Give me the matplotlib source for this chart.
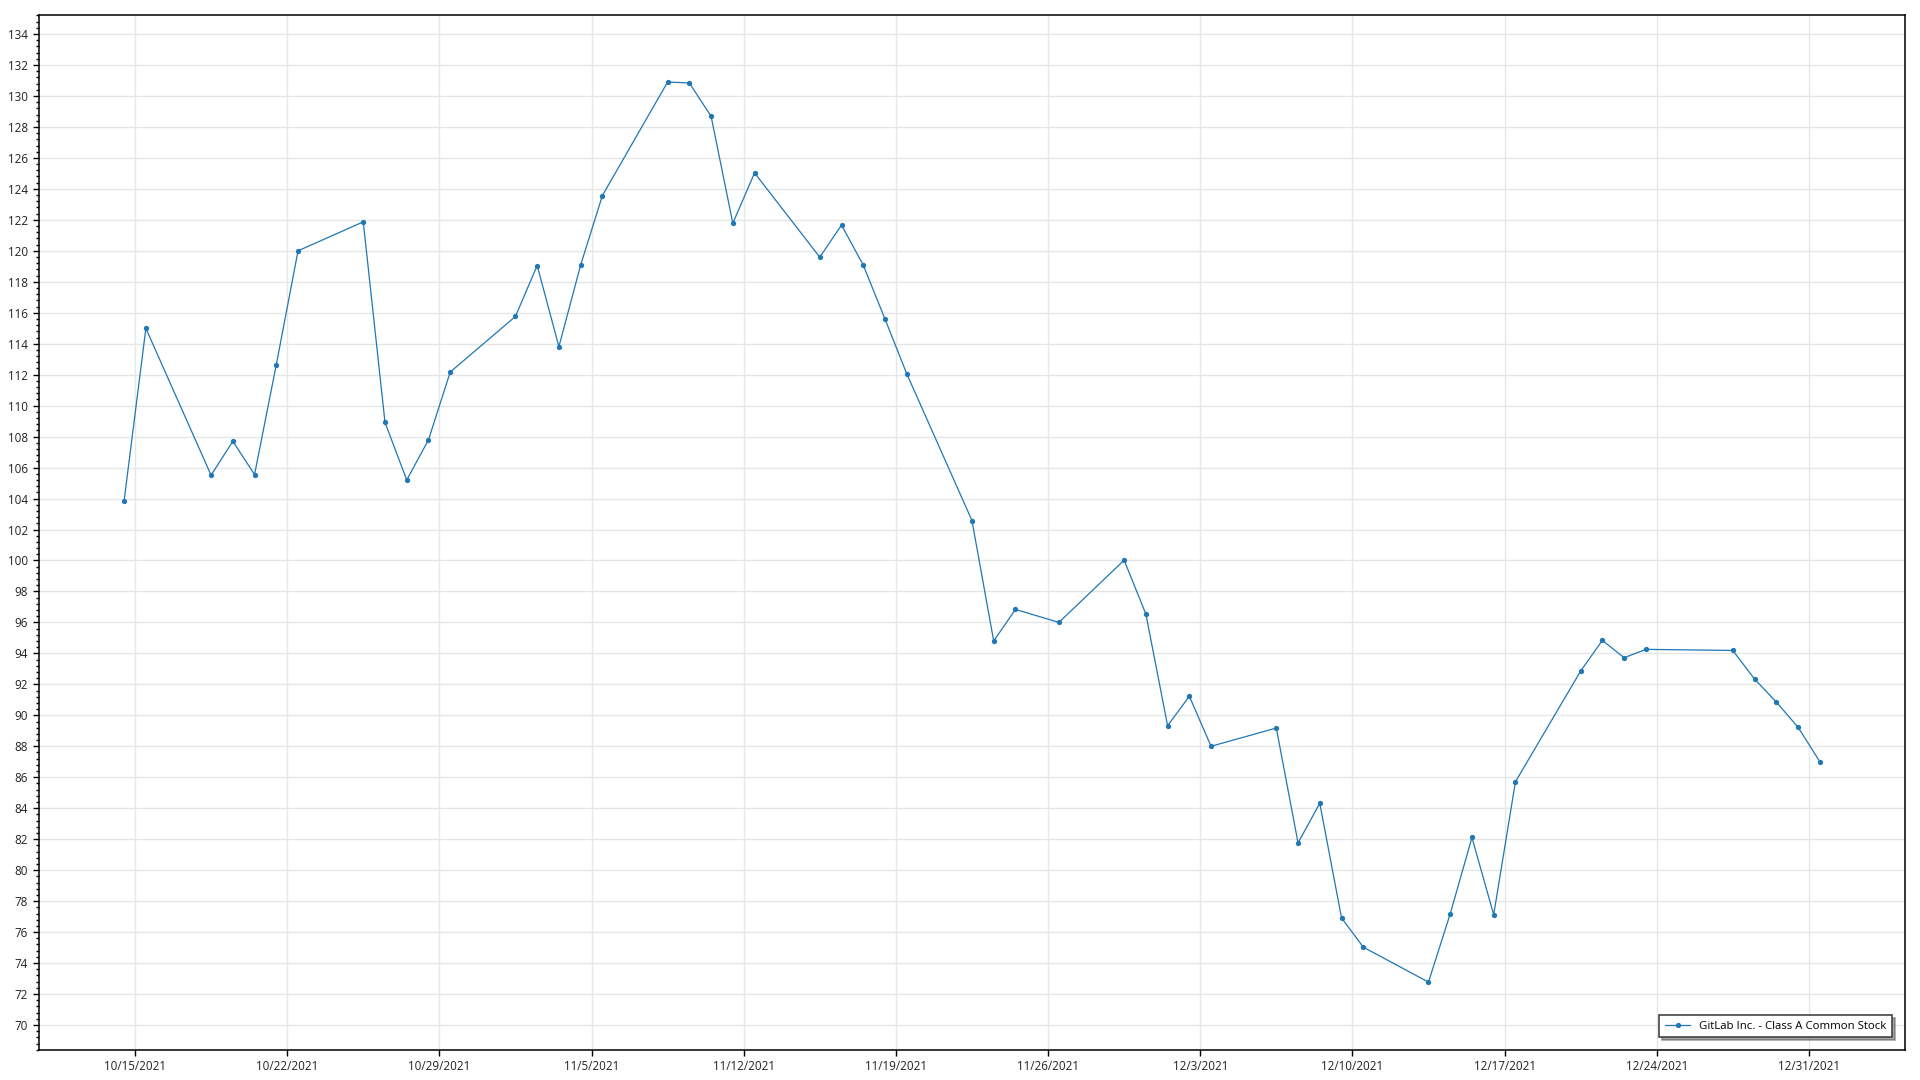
import datetime as dt
import matplotlib
matplotlib.use("Agg")
import matplotlib.pyplot as plt
import matplotlib.dates as mdates
from matplotlib.ticker import MultipleLocator, FuncFormatter

plt.rcParams['font.family'] = ['Open Sans', 'DejaVu Sans']

# ---- data ----
dates = [
    "2021-10-14", "2021-10-15", "2021-10-18", "2021-10-19", "2021-10-20", "2021-10-21", "2021-10-22",
    "2021-10-25", "2021-10-26", "2021-10-27", "2021-10-28", "2021-10-29",
    "2021-11-01", "2021-11-02", "2021-11-03", "2021-11-04", "2021-11-05",
    "2021-11-08", "2021-11-09", "2021-11-10", "2021-11-11", "2021-11-12",
    "2021-11-15", "2021-11-16", "2021-11-17", "2021-11-18", "2021-11-19",
    "2021-11-22", "2021-11-23", "2021-11-24", "2021-11-26",
    "2021-11-29", "2021-11-30", "2021-12-01", "2021-12-02", "2021-12-03",
    "2021-12-06", "2021-12-07", "2021-12-08", "2021-12-09", "2021-12-10",
    "2021-12-13", "2021-12-14", "2021-12-15", "2021-12-16", "2021-12-17",
    "2021-12-20", "2021-12-21", "2021-12-22", "2021-12-23",
    "2021-12-27", "2021-12-28", "2021-12-29", "2021-12-30", "2021-12-31",
]
prices = [
    103.87, 114.99, 105.51, 107.70, 105.55, 112.65, 120.00,
    121.87, 108.92, 105.20, 107.79, 112.17,
    115.76, 119.05, 113.81, 119.08, 123.57,
    130.90, 130.84, 128.69, 121.78, 125.03,
    119.59, 121.66, 119.08, 115.59, 112.06,
    102.58, 94.80, 96.84, 96.00,
    100.02, 96.54, 89.33, 91.23, 88.00,
    89.18, 81.76, 84.32, 76.92, 75.03,
    72.77, 77.18, 82.11, 77.12, 85.71,
    92.86, 94.84, 93.72, 94.26,
    94.19, 92.34, 90.86, 89.23, 87.01,
]
series_name = "GitLab Inc. - Class A Common Stock"
x_tick_dates = ["2021-10-15", "2021-10-22", "2021-10-29", "2021-11-05", "2021-11-12",
                "2021-11-19", "2021-11-26", "2021-12-03", "2021-12-10", "2021-12-17",
                "2021-12-24", "2021-12-31"]

# ---- figure ----
fig = plt.figure(figsize=(19.2, 10.8), dpi=100)
ax = fig.add_axes([39 / 1920, 1 - 1050 / 1080, (1905 - 39) / 1920, (1050 - 15) / 1080])

xs = [dt.datetime.fromisoformat(d) + dt.timedelta(hours=12) for d in dates]
color = "#1f77b4"
ax.plot(xs, prices, color=color, linewidth=0.9, marker="o", markersize=3.8,
        markeredgewidth=0, label=series_name, zorder=3)

ref = dt.datetime(2021, 10, 15)
ax.set_xlim(ref - dt.timedelta(days=4.416), ref + dt.timedelta(days=81.42))
ax.set_ylim(68.385, 135.23)

ticks = [dt.datetime.fromisoformat(d) for d in x_tick_dates]
ax.set_xticks(ticks)
ax.xaxis.set_major_formatter(FuncFormatter(
    lambda v, p: (lambda d: f"{d.month}/{d.day}/{d.year}")(mdates.num2date(v))))
ax.yaxis.set_major_locator(MultipleLocator(2))
ax.yaxis.set_minor_locator(MultipleLocator(0.4))
ax.yaxis.set_major_formatter(FuncFormatter(lambda v, p: f"{v:.0f}"))

ax.grid(True, which="major", color="#e6e6e6", linewidth=1.0, zorder=0)
ax.set_axisbelow(True)

for s in ax.spines.values():
    s.set_linewidth(1.1)
    s.set_color("black")

ax.tick_params(axis="both", which="major", direction="out", length=4, width=1,
               labelsize=8.4, colors="black", labelcolor="#222222")
ax.tick_params(axis="y", which="minor", direction="out", length=2, width=1)
ax.tick_params(axis="y", pad=4)
ax.tick_params(axis="x", pad=3)

leg = ax.legend(loc="lower right", fontsize=8.2, frameon=True, fancybox=False,
                shadow=True, borderpad=0.5, handlelength=2.2,
                bbox_to_anchor=(1 - 7 / 1866, 7 / 1035))
leg.get_frame().set_edgecolor("#444444")
leg.get_frame().set_linewidth(1.2)

fig.savefig("out.png", dpi=100)
